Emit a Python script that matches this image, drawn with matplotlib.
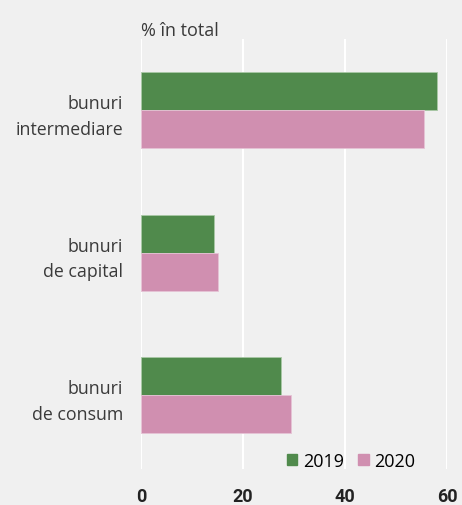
import numpy as np
import matplotlib.pyplot as plt
from matplotlib.patches import Patch

categories = ['bunuri\nintermediare', 'bunuri\nde capital', 'bunuri\nde consum']
val_2019 = [58.0, 14.3, 27.5]
val_2020 = [55.5, 15.1, 29.4]
ticks = [0, 20, 40, 60]

bg = '#f0f0f0'
green = '#508a4c'
pink = '#d08fb0'

fig = plt.figure(figsize=(4.62, 5.06), dpi=100, facecolor=bg)
ax = fig.add_axes([141 / 462, 36 / 506, 306 / 462, 430 / 506], facecolor=bg)

y = np.arange(len(categories))
h = 0.267
ax.barh(y - h / 2, val_2019, height=h, color=green, edgecolor='#a9c8a6', linewidth=0.6, zorder=3)
ax.barh(y + h / 2, val_2020, height=h, color=pink, edgecolor='#e6c3d5', linewidth=0.6, zorder=3)

ax.set_xlim(0, 60)
ax.set_ylim(2.52, -0.5)
ax.set_xticks(ticks)
ax.set_xticklabels([str(t) for t in ticks], family=['Roboto', 'DejaVu Sans'],
                   fontweight='bold', fontsize=13, color='#222222')
ax.tick_params(axis='x', length=0, pad=13)
ax.set_yticks(y)
ax.set_yticklabels(categories, family='Open Sans', fontsize=12.8, color='#3a3a3a',
                   ha='right', multialignment='right', linespacing=1.55)
ax.tick_params(axis='y', length=0, pad=13)
ax.grid(axis='x', color='white', linewidth=1.5, zorder=0)
for s in ax.spines.values():
    s.set_visible(False)

fig.text(141 / 462, 1 - 31 / 506, '% în total', family='Open Sans', fontsize=13,
         color='#3a3a3a', va='center', ha='left')

handles = [Patch(color=green, label='2019'), Patch(color=pink, label='2020')]
ax.legend(handles=handles, loc='lower right', bbox_to_anchor=(0.95, -0.04), ncol=2,
          frameon=False, prop={'family': 'Open Sans', 'size': 13},
          handlelength=0.6, handleheight=0.6, handletextpad=0.3, columnspacing=0.8)

fig.savefig('out.png', dpi=100, facecolor=bg)
